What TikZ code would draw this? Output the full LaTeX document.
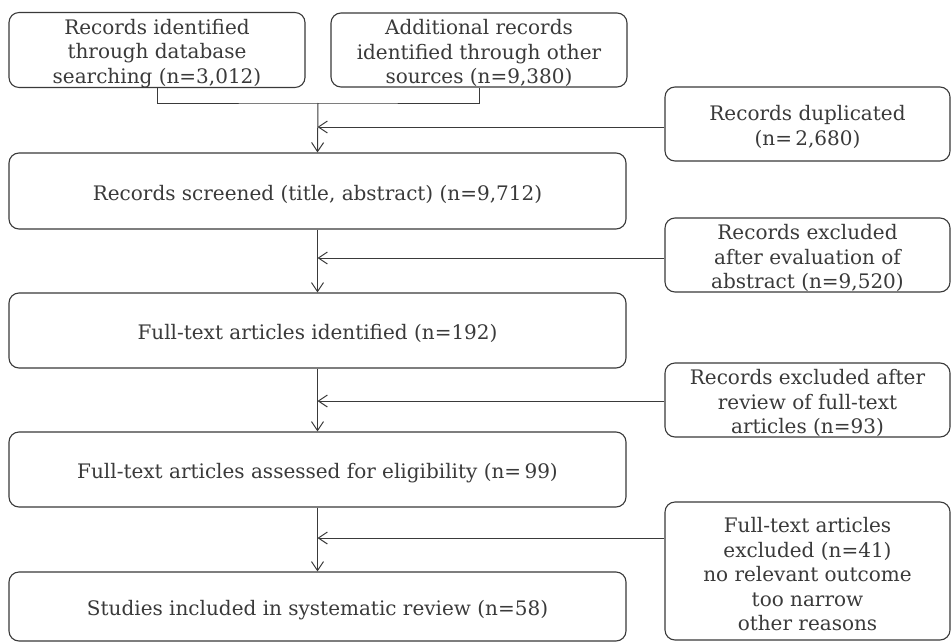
\documentclass[tikz,border=0pt]{standalone}
\usepackage{fontspec}
\setmainfont{DejaVu Serif}
\usetikzlibrary{arrows.meta,calc}
\definecolor{ink}{HTML}{3A3A3A}
\newcommand\tst{\rule{0pt}{21.5pt}}
\begin{document}
\begin{tikzpicture}[x=1pt,y=-1pt,
  box/.style={draw=ink,line width=1.1pt,rounded corners=10pt,align=center,
    text=ink,font=\fontsize{20}{24.5}\selectfont,inner sep=0pt},
  mainbox/.style={box,minimum width=617pt},
  sidebox/.style={box,minimum width=285pt,minimum height=74pt},
  topbox/.style={box,minimum width=296pt,minimum height=74pt},
  conn/.style={draw=ink,line width=1pt},
  arr/.style={conn,-{Straight Barb[length=9pt,width=12pt,line width=1pt]}}]
\useasboundingbox (0,0) rectangle (952,642);
\fill[white] (0,0) rectangle (952,642);
\node[topbox] (A) at (157,50) {\tst Records identified\\through database\\searching (n=3,012)};
\node[topbox] (B) at (479,50) {\tst Additional records\\identified through other\\sources (n=9,380)};
\node[mainbox,minimum height=76pt] (C) at (317.5,191) {\tst Records screened (title, abstract) (n=9,712)};
\node[mainbox,minimum height=75pt] (D) at (317.5,330.5) {\tst Full-text articles identified (n=192)};
\node[mainbox,minimum height=75pt] (E) at (317.5,469.5) {\tst Full-text articles assessed for eligibility (n=\,99)};
\node[mainbox,minimum height=69pt] (F) at (317.5,606.5) {\tst Studies included in systematic review (n=58)};
\node[sidebox] (S1) at (807.5,124) {\tst Records duplicated\\(n=\,2,680)};
\node[sidebox] (S2) at (807.5,255) {\tst Records excluded\\after evaluation of\\abstract (n=9,520)};
\node[sidebox] (S3) at (807.5,400) {\tst Records excluded after\\review of full-text\\articles (n=93)};
\node[sidebox,minimum height=138pt] (S4) at (807.5,571) {\tst Full-text articles\\excluded (n=41)\\no relevant outcome\\too narrow\\other reasons};
\coordinate (J) at (318,103);
\draw[conn] (A.south) |- (J) -| (B.south);
\draw[arr] (J) -- (C.north);
\draw[arr] (C.south) -- (D.north);
\draw[arr] (D.south) -- (E.north);
\draw[arr] (E.south) -- (F.north);
\draw[arr] ([yshift=-3pt]S1.west) -- ([yshift=-3pt]S1.west -| C.north);
\draw[arr] ([yshift=-3pt]S2.west) -- ([yshift=-3pt]S2.west -| C.north);
\draw[arr] ([yshift=-1pt]S3.west) -- ([yshift=-1pt]S3.west -| C.north);
\draw[arr] ([yshift=33pt]S4.west) -- ([yshift=33pt]S4.west -| C.north);
\end{tikzpicture}
\end{document}
